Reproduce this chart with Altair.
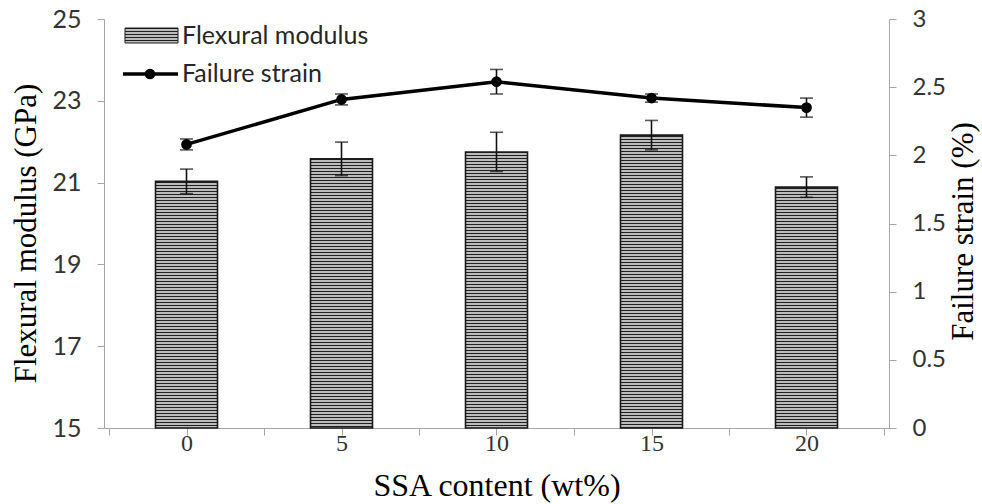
import math
import altair as alt
import pandas as pd

# ---- data ----
ssa = [0, 5, 10, 15, 20]
modulus = [21.03, 21.58, 21.75, 22.16, 20.89]
modulus_err = [0.30, 0.41, 0.48, 0.36, 0.25]
strain = [2.08, 2.41, 2.54, 2.42, 2.35]
strain_err = [0.04, 0.04, 0.09, 0.03, 0.07]

x_ticks = [-2.5, 0, 2.5, 5, 7.5, 10, 12.5, 15, 17.5, 20, 22.5]
left_ticks = [15, 17, 19, 21, 23, 25]
right_ticks = [0, 0.5, 1, 1.5, 2, 2.5, 3]
legend_labels = ["Flexural modulus", "Failure strain"]

df = pd.DataFrame({
    "ssa": ssa,
    "modulus": modulus,
    "m_lo": [m - e for m, e in zip(modulus, modulus_err)],
    "m_hi": [m + e for m, e in zip(modulus, modulus_err)],
    "strain": strain,
    "s_lo": [s - e for s, e in zip(strain, strain_err)],
    "s_hi": [s + e for s, e in zip(strain, strain_err)],
})

SANS = "Lato"
SERIF = "Liberation Serif"
AXIS_GRAY = "#a6a6a6"
LABEL = "#333333"
PAD_L, PAD_T = 104, 19
PLOT_W, PLOT_H = 785, 409
Y_MIN, Y_MAX = 15, 25


def stripes_px(top_px, height_px, period=3, dark_px=1, dark="#202020", light="#bcbcbc"):
    """Horizontal stripes with a fixed pixel period, edges snapped to whole pixels."""
    phase = math.ceil(top_px) - top_px
    stops = [{"offset": 0.0, "color": light}]
    pos = phase
    while pos < height_px:
        a = pos / height_px
        b = min((pos + dark_px) / height_px, 1.0)
        c = min((pos + period) / height_px, 1.0)
        stops += [
            {"offset": a, "color": light},
            {"offset": a, "color": dark},
            {"offset": b, "color": dark},
            {"offset": b, "color": light},
            {"offset": c, "color": light},
        ]
        pos += period
    stops.append({"offset": 1.0, "color": light})
    return {"gradient": "linear", "x1": 0, "y1": 0, "x2": 0, "y2": 1, "stops": stops}


x_enc = alt.X(
    "ssa:Q",
    scale=alt.Scale(domain=[-2.5, 22.5], nice=False, zero=False),
    axis=alt.Axis(
        values=x_ticks,
        labelExpr="datum.value % 5 == 0 ? datum.label : ''",
        title="SSA content (wt%)",
        grid=False,
        domainColor=AXIS_GRAY,
        tickColor=AXIS_GRAY,
        tickSize=7,
        labelFont=SERIF,
        labelFontSize=24,
        labelColor=LABEL,
        labelPadding=-4,
        titleFont=SERIF,
        titleFontSize=32,
        titleFontWeight="normal",
        titleColor="#000000",
        titleY=57,
        titleBaseline="middle",
    ),
)

y_left_scale = alt.Scale(domain=[Y_MIN, Y_MAX], nice=False, zero=False)
y_left_axis = alt.Axis(
    values=left_ticks,
    title="Flexural modulus (GPa)",
    grid=False,
    domainColor=AXIS_GRAY,
    tickColor=AXIS_GRAY,
    tickSize=7,
    labelFont=SANS,
    labelFontSize=25,
    labelColor=LABEL,
    labelPadding=16,
    titleFont=SERIF,
    titleFontSize=31,
    titleFontWeight="normal",
    titleColor="#000000",
    titleAngle=270,
    titleX=-78,
    titleY=214,
    titleAlign="center",
    titleBaseline="middle",
)

y_right_scale = alt.Scale(domain=[0, 3], nice=False, zero=False)
y_right_axis = alt.Axis(
    orient="right",
    values=right_ticks,
    format="~g",
    title="Failure strain (%)",
    grid=False,
    domainColor=AXIS_GRAY,
    tickColor=AXIS_GRAY,
    tickSize=7,
    labelFont=SANS,
    labelFontSize=24,
    labelColor=LABEL,
    labelPadding=16,
    titleFont=SERIF,
    titleFontSize=31,
    titleFontWeight="normal",
    titleColor="#000000",
    titleAngle=270,
    titleX=74,
    titleY=212,
    titleAlign="center",
    titleBaseline="middle",
)

base = alt.Chart(df)

bar_layers = []
for s, m in zip(ssa, modulus):
    h = (m - Y_MIN) / (Y_MAX - Y_MIN) * PLOT_H
    top = PAD_T + PLOT_H - h
    bar_layers.append(
        base.transform_filter(alt.datum.ssa == s)
        .mark_bar(size=62, fill=stripes_px(top, h), stroke="#1a1a1a", strokeWidth=1.6)
        .encode(
            x=x_enc,
            y=alt.Y("modulus:Q", scale=y_left_scale, axis=y_left_axis),
            y2=alt.datum(Y_MIN),
        )
    )

bar_err = base.mark_rule(color="#111111", strokeWidth=1.6).encode(
    x=x_enc, y=alt.Y("m_lo:Q", scale=y_left_scale, axis=y_left_axis), y2="m_hi:Q"
)
bar_cap_hi = base.mark_tick(color="#111111", thickness=1.6, size=13, orient="horizontal").encode(
    x=x_enc, y=alt.Y("m_hi:Q", scale=y_left_scale, axis=y_left_axis)
)
bar_cap_lo = base.mark_tick(color="#111111", thickness=1.6, size=13, orient="horizontal").encode(
    x=x_enc, y=alt.Y("m_lo:Q", scale=y_left_scale, axis=y_left_axis)
)
left = alt.layer(*bar_layers, bar_err, bar_cap_hi, bar_cap_lo)

line = base.mark_line(color="#000000", strokeWidth=3.5).encode(
    x=x_enc, y=alt.Y("strain:Q", scale=y_right_scale, axis=y_right_axis)
)
line_err = base.mark_rule(color="#111111", strokeWidth=1.6).encode(
    x=x_enc, y=alt.Y("s_lo:Q", scale=y_right_scale, axis=y_right_axis), y2="s_hi:Q"
)
line_cap_hi = base.mark_tick(color="#111111", thickness=1.6, size=13, orient="horizontal").encode(
    x=x_enc, y=alt.Y("s_hi:Q", scale=y_right_scale, axis=y_right_axis)
)
line_cap_lo = base.mark_tick(color="#111111", thickness=1.6, size=13, orient="horizontal").encode(
    x=x_enc, y=alt.Y("s_lo:Q", scale=y_right_scale, axis=y_right_axis)
)
pts = base.mark_point(filled=True, color="#000000", size=115, opacity=1).encode(
    x=x_enc, y=alt.Y("strain:Q", scale=y_right_scale, axis=y_right_axis)
)
right = alt.layer(line_err, line_cap_hi, line_cap_lo, line, pts)

# ---- legend (drawn by hand, top-left inside the plot) ----
leg = alt.Chart(pd.DataFrame({"k": [0]}))
leg_swatch = leg.mark_rect(fill=stripes_px(PAD_T + 9, 15), stroke="#1a1a1a", strokeWidth=1).encode(
    x=alt.value(21), x2=alt.value(74), y=alt.value(9), y2=alt.value(24)
)
leg_line = leg.mark_rule(color="#000000", strokeWidth=3.5).encode(
    x=alt.value(19), x2=alt.value(74), y=alt.value(55)
)
leg_pt = leg.mark_point(filled=True, color="#000000", size=115, opacity=1).encode(
    x=alt.value(46), y=alt.value(55)
)
leg_t1 = leg.mark_text(text=legend_labels[0], font=SANS, fontSize=25, color="#262626",
                       align="left", baseline="middle").encode(x=alt.value(78), y=alt.value(17))
leg_t2 = leg.mark_text(text=legend_labels[1], font=SANS, fontSize=25, color="#262626",
                       align="left", baseline="middle").encode(x=alt.value(78), y=alt.value(55))
legend = alt.layer(leg_swatch, leg_line, leg_pt, leg_t1, leg_t2)

chart = (
    alt.layer(left, right, legend)
    .resolve_scale(y="independent")
    .properties(
        width=PLOT_W,
        height=PLOT_H,
        autosize=alt.AutoSizeParams(type="none"),
        padding={"left": PAD_L, "top": PAD_T, "right": 93, "bottom": 76},
        background="#ffffff",
    )
    .configure_view(strokeWidth=0)
)

chart.save("out.html", embed_options={"renderer": "svg", "actions": False})
